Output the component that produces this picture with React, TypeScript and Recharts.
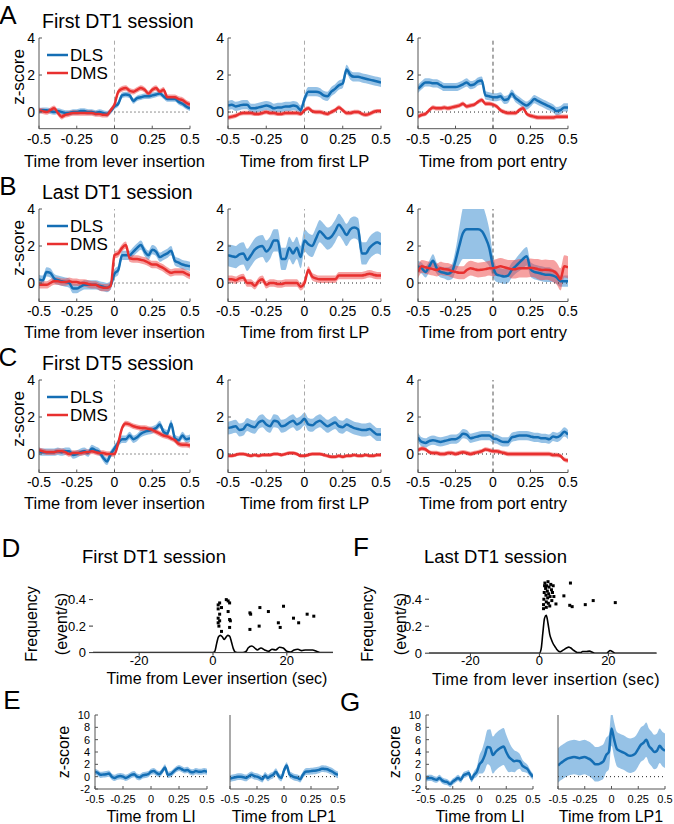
import { ComposedChart, Line, Area, XAxis, YAxis, ReferenceLine, Scatter } from 'recharts'

const FONT = '"Liberation Sans", Arial, sans-serif'
const NARROW = '"Liberation Sans Narrow", "Liberation Sans", Arial, sans-serif'
const BLUE = '#146eb4'
const BLUE_BAND = '#3f8fd2'
const RED = '#e8302f'
const RED_BAND = '#ee4444'

// time grid for the photometry traces (s)
const T = [
  -0.5, -0.475, -0.45, -0.425, -0.4, -0.375, -0.35, -0.325, -0.3, -0.275, -0.25, -0.225, -0.2, -0.175,
  -0.15, -0.125, -0.1, -0.075, -0.05, -0.025, 0, 0.025, 0.05, 0.075, 0.1, 0.125, 0.15, 0.175, 0.2, 0.225,
  0.25, 0.275, 0.3, 0.325, 0.35, 0.375, 0.4, 0.425, 0.45, 0.475, 0.5,
]
const X_TICKS = [-0.5, -0.25, 0, 0.25, 0.5]

// A: first DT1 session
const a1Dls = [0.05,0.1,0.1,0.05,0.0,0.05,0.0,-0.05,-0.05,0.0,0.0,0.05,0.05,0.0,0.0,-0.05,0.0,-0.05,-0.1,0.05,0.3,0.45,0.9,0.95,0.9,0.6,0.75,0.8,0.85,0.85,0.9,0.95,1.0,0.85,0.7,0.7,0.7,0.55,0.45,0.3,0.2]
const a1Dms = [0.1,0.05,0.0,0.1,0.2,-0.05,-0.25,-0.15,-0.1,-0.05,-0.05,-0.05,-0.05,-0.05,-0.05,-0.1,-0.1,-0.15,-0.15,0.1,0.4,1.1,1.25,1.3,1.15,1.1,1.2,1.3,1.2,1.0,1.2,1.3,1.1,1.2,0.8,0.8,0.8,0.7,0.65,0.5,0.4]
const a2Dls = [0.35,0.4,0.3,0.35,0.4,0.4,0.2,0.2,0.25,0.3,0.35,0.3,0.2,0.25,0.25,0.3,0.3,0.35,0.3,0.1,0.7,1.1,1.1,1.1,1.05,0.9,0.85,1.1,1.25,1.45,1.55,2.3,2.0,1.9,1.9,1.85,1.8,1.75,1.7,1.65,1.6]
const a2Dms = [-0.3,-0.25,-0.2,-0.1,-0.05,-0.05,-0.05,-0.1,-0.1,-0.05,0.0,-0.05,-0.05,-0.1,-0.1,-0.05,-0.05,-0.05,-0.05,-0.1,0.1,0.2,0.05,0.0,0.0,-0.05,-0.1,0.0,0.1,0.25,0.1,-0.05,-0.05,0.0,0.0,-0.1,-0.15,-0.1,0.0,0.05,0.05]
const a3Dls = [1.25,1.45,1.6,1.6,1.55,1.55,1.45,1.35,1.35,1.35,1.35,1.4,1.5,1.6,1.45,1.5,1.65,1.7,0.9,0.85,0.8,0.8,0.85,0.65,0.7,1.0,0.75,0.6,0.45,0.35,0.5,0.7,0.6,0.5,0.4,0.3,0.2,0.05,0.1,0.25,0.25]
const a3Dms = [-0.25,-0.15,-0.1,0.1,0.25,0.2,0.2,0.25,0.2,0.25,0.3,0.35,0.45,0.3,0.35,0.4,0.55,0.65,0.45,0.45,0.4,0.3,0.1,0.0,-0.05,-0.05,-0.05,0.1,0.2,-0.1,-0.2,-0.25,-0.3,-0.3,-0.3,-0.3,-0.3,-0.25,-0.25,-0.25,-0.25]

// B: last DT1 session
const b1Dls = [0.2,0.15,0.6,0.55,0.25,0.15,0.1,0.05,0.0,-0.3,-0.3,-0.2,-0.1,-0.1,-0.1,-0.1,-0.15,-0.2,-0.25,-0.1,0.5,0.7,1.5,1.5,1.5,1.7,1.9,2.05,1.7,1.5,1.8,1.7,1.4,1.5,1.6,1.75,1.2,1.1,1.0,0.95,0.9]
const b1Dms = [-0.1,-0.1,-0.1,0.0,0.1,0.1,0.05,0.05,0.1,0.05,0.05,0.0,0.0,-0.05,-0.1,-0.1,-0.2,-0.25,-0.25,-0.15,1.5,1.6,1.9,2.05,1.35,1.3,1.3,1.25,1.2,1.1,1.0,1.0,0.9,0.8,0.65,0.55,0.6,0.6,0.6,0.5,0.4]
const b2Dls = [1.5,1.45,1.4,1.55,1.6,1.25,1.5,1.8,1.95,2.0,1.7,1.9,2.3,2.3,1.3,1.3,1.9,1.6,1.9,1.4,2.3,2.1,2.0,2.4,2.8,2.6,2.4,2.5,2.8,3.15,2.9,2.6,2.9,3.0,2.9,1.6,1.6,1.9,2.1,2.2,2.1]
const b2Dms = [0.2,0.2,0.15,0.25,0.3,0.0,0.0,-0.15,0.1,0.2,-0.1,0.0,0.0,-0.05,-0.05,0.0,0.0,0.0,0.0,-0.2,0.0,0.7,0.35,0.25,0.2,0.2,0.2,0.2,0.2,0.4,0.4,0.4,0.4,0.4,0.4,0.4,0.45,0.5,0.45,0.4,0.4]
const b3Dls = [0.9,0.8,0.6,0.9,1.2,0.8,0.6,0.55,0.5,0.6,1.2,2.0,2.7,2.9,2.9,2.9,2.9,2.8,2.45,1.9,0.9,0.45,0.4,0.35,0.4,0.7,0.9,1.1,1.3,1.45,0.75,0.6,0.55,0.5,0.45,0.45,0.4,0.3,0.1,0.1,0.1]
const b3DlsSem = [0.3,0.3,0.3,0.3,0.35,0.3,0.3,0.3,0.35,0.4,0.6,1.0,1.4,1.6,1.6,1.6,1.6,1.5,1.3,1.0,0.6,0.4,0.4,0.4,0.4,0.4,0.4,0.45,0.5,0.5,0.4,0.4,0.4,0.4,0.4,0.4,0.35,0.35,0.3,0.3,0.3]
const b3Dms = [0.6,0.9,0.85,0.8,0.75,0.7,0.8,0.75,0.73,0.65,0.6,0.55,0.55,0.7,0.8,0.75,0.7,0.72,0.75,0.8,0.8,0.85,0.9,0.85,0.8,0.75,0.75,0.8,0.8,0.8,0.82,0.8,0.75,0.7,0.72,0.7,0.65,0.5,0.2,0.9,0.85]
const b3DmsSem = [0.35,0.35,0.35,0.35,0.35,0.35,0.35,0.35,0.35,0.35,0.35,0.35,0.35,0.4,0.4,0.4,0.4,0.4,0.4,0.4,0.45,0.45,0.45,0.45,0.45,0.5,0.5,0.5,0.5,0.5,0.5,0.5,0.55,0.55,0.55,0.55,0.6,0.6,0.6,0.6,0.6]

// C: first DT5 session
const c1Dls = [0.15,0.1,0.1,0.1,0.1,0.15,0.1,0.15,0.15,-0.05,0.0,0.1,0.15,0.05,0.3,0.2,0.1,-0.2,-0.4,0.0,0.3,0.6,0.8,0.8,1.0,0.8,0.9,1.1,1.2,1.25,1.3,1.4,1.6,1.2,1.1,1.65,0.85,0.75,1.0,0.8,0.85]
const c1Dms = [0.2,0.15,0.1,0.1,0.1,0.15,0.15,0.1,0.0,0.05,0.05,0.05,0.1,0.1,0.15,0.1,0.05,0.05,0.0,0.0,0.0,0.6,1.4,1.65,1.6,1.5,1.45,1.4,1.4,1.35,1.3,1.2,1.1,1.0,0.95,0.85,0.75,0.55,0.5,0.5,0.45]
const c2Dls = [1.4,1.45,1.5,1.3,1.35,1.6,1.5,1.45,1.7,1.8,1.6,1.5,1.8,1.75,1.5,1.55,1.7,1.8,1.6,1.7,1.9,1.6,1.55,1.7,1.8,1.65,1.5,1.6,1.7,1.5,1.45,1.6,1.5,1.4,1.35,1.3,1.3,1.35,1.2,1.05,1.05]
const c2Dms = [-0.1,-0.1,-0.05,0.0,0.0,-0.05,-0.1,-0.05,-0.1,-0.05,-0.05,-0.05,0.0,0.0,-0.05,0.0,0.05,0.05,0.0,-0.1,-0.1,-0.05,0.0,0.0,0.0,-0.05,-0.1,-0.15,-0.15,-0.1,-0.15,-0.1,-0.1,-0.05,-0.1,-0.1,-0.05,-0.1,-0.1,-0.05,-0.05]
const c3Dls = [0.9,0.65,0.6,0.7,0.75,0.7,0.65,0.7,0.75,0.8,0.8,0.9,1.1,1.05,0.85,0.9,0.95,1.0,1.0,1.0,0.85,0.8,0.7,0.65,0.65,0.9,0.95,1.0,1.0,1.0,0.95,0.9,0.9,0.85,0.85,0.8,0.95,0.9,1.0,1.2,1.05]
const c3Dms = [0.2,0.3,0.25,0.1,0.05,0.05,0.0,0.0,0.05,0.05,0.0,0.05,0.1,0.05,0.0,0.05,0.1,0.15,0.25,0.2,0.15,0.15,0.1,0.05,0.0,0.0,0.0,0.0,0.0,0.0,0.0,0.0,0.0,0.0,0.0,0.0,-0.05,-0.05,-0.1,-0.3,-0.35]

// D / F: lever-press frequency (t in s, f in events/s)
const histD = [[-32.5,0],[0,0],[0.5,0.01],[1,0.07],[1.5,0.12],[2,0.13],[2.5,0.12],[3,0.1],[3.5,0.115],[4,0.13],[4.5,0.125],[5,0.08],[5.5,0.03],[6,0.005],[7,0],[8,0],[9,0.01],[9.5,0.035],[10.5,0.05],[11.5,0.03],[12,0.02],[13,0.035],[14,0.02],[15,0.01],[16,0.025],[17,0.02],[18,0.04],[19,0.035],[20,0.01],[21,0.005],[22,0.02],[23,0.025],[24,0.015],[25,0.02],[26,0.02],[27,0.02],[28,0.01],[29,0],[32.5,0]]
const dotsD = [[1.4,0.36],[1.4,0.33],[1.4,0.26],[1.4,0.225],[1.6,0.2],[1.8,0.375],[1.8,0.29],[1.8,0.24],[2.3,0.34],[2.3,0.16],[3.6,0.4],[4.1,0.39],[4.5,0.375],[4.1,0.31],[4.5,0.25],[4.7,0.24],[4.5,0.19],[10,0.3],[10.2,0.29],[10,0.175],[12.7,0.34],[12.5,0.2],[15,0.31],[17.7,0.225],[18.2,0.19],[19.1,0.35],[21.8,0.26],[23.2,0.225],[25.5,0.29],[27.3,0.275]]
const histF = [[-32,0],[0,0],[0.5,0.03],[1,0.15],[1.5,0.26],[2,0.28],[2.5,0.22],[3,0.14],[3.5,0.1],[4,0.07],[4.5,0.05],[5,0.03],[6,0.01],[7,0.025],[8,0.04],[8.5,0.045],[9,0.04],[10,0.02],[11,0.005],[12,0.005],[12.5,0.012],[13.5,0.012],[14.5,0.015],[15.5,0.005],[16,0],[19.5,0],[20,0.01],[20.5,0.02],[21,0.015],[22,0],[34,0]]
const dotsF = [[1.2,0.33],[1.2,0.36],[1.3,0.4],[1.4,0.45],[1.5,0.5],[1.6,0.52],[1.8,0.48],[1.9,0.43],[2.0,0.38],[2.0,0.34],[2.1,0.5],[2.3,0.46],[2.4,0.41],[2.5,0.53],[2.6,0.37],[2.7,0.44],[2.8,0.49],[3.0,0.35],[3.1,0.42],[3.3,0.51],[3.5,0.47],[3.6,0.39],[3.8,0.45],[4.0,0.5],[4.2,0.42],[4.8,0.365],[7.1,0.425],[8.8,0.355],[9.0,0.52],[9.5,0.345],[13.3,0.36],[15.6,0.39],[22,0.375]]

// E / G: single-trace z-scores
const e1 = [0.8,0.6,0.3,0.35,0.4,0.5,0.0,-0.2,0.0,0.1,0.0,-0.2,0.0,0.3,0.4,0.0,-0.1,0.2,0.3,0.4,0.8,0.9,0.6,0.4,0.9,1.5,0.3,0.4,0.8,1.2,1.4,1.2,1.0,1.1,0.8,0.7,0.9,0.8,0.8,0.9,0.8]
const e2 = [-0.3,-0.2,-0.1,0.0,0.0,-0.1,-0.2,0.1,0.3,0.1,0.0,-0.2,-0.4,0.2,-0.2,0.1,0.3,0.8,0.1,-0.2,1.0,1.8,0.4,0.1,-0.1,-0.2,-0.4,0.3,0.8,0.85,0.9,0.95,1.0,1.1,1.3,1.25,1.2,1.0,0.8,0.5,0.3]
const g1 = [-0.3,-0.2,-0.2,-0.4,-0.5,-0.2,-0.6,-0.8,-0.9,-1.2,-0.8,-0.5,-0.2,-0.5,0.2,0.4,0.6,-0.4,0.3,0.8,2.0,2.5,3.5,4.8,4.7,3.5,4.0,4.4,4.7,4.9,4.0,3.2,2.8,2.5,2.6,2.5,1.8,1.5,1.2,0.5,0.0]
const g1Sem = [0.5,0.5,0.5,0.5,0.5,0.5,0.5,0.5,0.5,0.5,0.5,0.5,0.5,0.5,0.5,0.5,0.5,0.5,0.6,0.8,1.5,2.0,2.5,2.8,3.0,3.0,3.0,3.0,3.0,3.0,2.8,2.5,2.0,1.8,1.5,1.2,1.0,0.8,0.7,0.6,0.5]
const g2 = [1.8,2.2,2.5,2.8,3.0,3.1,3.2,3.1,3.0,3.1,3.2,3.0,2.8,2.4,2.0,2.0,2.2,2.5,3.5,4.0,7.8,6.0,4.5,4.2,4.0,3.8,3.5,3.4,3.5,3.8,4.5,5.2,5.5,6.0,5.0,4.5,4.0,4.2,5.0,4.5,4.2]

type Sem = number | number[]
const semAt = (s: Sem, i: number) => (typeof s === 'number' ? s : s[i])

function buildRows(dls: number[], dlsSem: Sem, dms?: number[], dmsSem?: Sem) {
  return T.map((t, i) => {
    const row: any = { t, dls: dls[i], dlsBand: [dls[i] - semAt(dlsSem, i), dls[i] + semAt(dlsSem, i)] }
    if (dms && dmsSem !== undefined) {
      row.dms = dms[i]
      row.dmsBand = [dms[i] - semAt(dmsSem, i), dms[i] + semAt(dmsSem, i)]
    }
    return row
  })
}

const pairs = (arr: number[][]) => arr.map(([t, f]) => ({ t, f }))

interface TraceProps {
  left: number
  top: number
  width: number
  height: number
  rows: any[]
  yDomain: [number, number]
  yTicks: number[]
  yLabels?: boolean
  vline?: string
  zeroFrom: number
  small?: boolean
}

function TracePanel({ left, top, width, height, rows, yDomain, yTicks, yLabels = true, vline, zeroFrom, small }: TraceProps) {
  const ml = 40
  const mt = 8
  const mr = 10
  const xh = 26
  const tick = small
    ? { fontSize: 11, fill: '#000', fontFamily: NARROW }
    : { fontSize: 14, fill: '#000', fontFamily: FONT }
  const hasRed = rows[0].dms !== undefined
  return (
    <div style={{ position: 'absolute', left: left - ml, top: top - mt }}>
      <ComposedChart width={width + ml + mr} height={height + mt + xh} data={rows} margin={{ top: mt, right: mr, left: 0, bottom: 0 }}>
        <XAxis dataKey="t" type="number" domain={[-0.5, 0.5]} ticks={X_TICKS} height={xh} interval={0}
          tickSize={-3} tickMargin={small ? 9 : 8} tick={tick} tickFormatter={(v: number) => String(v)}
          axisLine={{ stroke: '#555' }} tickLine={{ stroke: '#555' }} allowDataOverflow />
        <YAxis type="number" domain={yDomain} ticks={yTicks} width={ml} interval={0}
          tickSize={-3} tickMargin={small ? 8 : 7} tick={yLabels ? tick : false}
          axisLine={{ stroke: '#555' }} tickLine={{ stroke: '#555' }} allowDataOverflow />
        {vline && <ReferenceLine x={0} stroke={vline} strokeDasharray="4 3" />}
        <ReferenceLine segment={[{ x: zeroFrom, y: 0 }, { x: 0.5, y: 0 }]} stroke="#222" strokeDasharray="1 3" />
        <Area dataKey="dlsBand" type="monotone" stroke="none" fill={BLUE_BAND} fillOpacity={0.55} isAnimationActive={false} />
        <Line dataKey="dls" type="monotone" stroke={BLUE} strokeWidth={2.5} dot={false} isAnimationActive={false} />
        {hasRed && <Area dataKey="dmsBand" type="monotone" stroke="none" fill={RED_BAND} fillOpacity={0.5} isAnimationActive={false} />}
        {hasRed && <Line dataKey="dms" type="monotone" stroke={RED} strokeWidth={2.5} dot={false} isAnimationActive={false} />}
      </ComposedChart>
    </div>
  )
}

interface FreqProps {
  left: number
  top: number
  width: number
  height: number
  xDomain: [number, number]
  yMax: number
  hist: number[][]
  dots: number[][]
}

const square = (p: any) => <rect x={p.cx - 1.5} y={p.cy - 1.5} width={3} height={3} fill="#000" />

function FreqPanel({ left, top, width, height, xDomain, yMax, hist, dots }: FreqProps) {
  const ml = 40
  const mt = 4
  const mr = 6
  const xh = 24
  const tick = { fontSize: 13, fill: '#000', fontFamily: FONT }
  return (
    <div style={{ position: 'absolute', left: left - ml, top: top - mt }}>
      <ComposedChart width={width + ml + mr} height={height + mt + xh} margin={{ top: mt, right: mr, left: 0, bottom: 0 }}>
        <XAxis dataKey="t" type="number" domain={xDomain} ticks={[-20, 0, 20]} height={xh} interval={0}
          tickSize={3} tickMargin={0} tick={tick} axisLine={{ stroke: '#333' }} tickLine={{ stroke: '#333' }} allowDataOverflow />
        <YAxis type="number" domain={[0, yMax]} ticks={[0, 0.2, 0.4]} width={ml} interval={0}
          tickSize={4} tickMargin={3} tick={tick} axisLine={false} tickLine={{ stroke: '#333' }} allowDataOverflow />
        <Line data={pairs(hist)} dataKey="f" type="monotone" stroke="#000" strokeWidth={1.6} dot={false} isAnimationActive={false} />
        <Scatter data={pairs(dots)} dataKey="f" shape={square} isAnimationActive={false} />
      </ComposedChart>
    </div>
  )
}

const ROW_TOP = [38, 209, 380]
const COL_LEFT = [39, 228, 418]
const COL_W = [151, 153, 150]

const rowsA = [buildRows(a1Dls, 0.15, a1Dms, 0.15), buildRows(a2Dls, 0.25, a2Dms, 0.12), buildRows(a3Dls, 0.22, a3Dms, 0.12)]
const rowsB = [buildRows(b1Dls, 0.25, b1Dms, 0.2), buildRows(b2Dls, 0.6, b2Dms, 0.2), buildRows(b3Dls, b3DlsSem, b3Dms, b3DmsSem)]
const rowsC = [buildRows(c1Dls, 0.2, c1Dms, 0.15), buildRows(c2Dls, 0.35, c2Dms, 0.1), buildRows(c3Dls, 0.25, c3Dms, 0.12)]

const titles = ['First DT1 session', 'Last DT1 session', 'First DT5 session']
const letters = ['A', 'B', 'C']
const xLabels = ['Time from lever insertion', 'Time from first LP', 'Time from port entry']
const Z_TICKS = [-2, 0, 2, 4, 6, 8, 10]

export default function App() {
  const grid = [rowsA, rowsB, rowsC]
  return (
    <div style={{ position: 'absolute', left: 0, top: 0, width: 674, height: 824, background: '#fff', fontFamily: FONT }}>
      {grid.map((rows, r) =>
        rows.map((data, c) => (
          <TracePanel key={`${r}-${c}`} left={COL_LEFT[c]} top={ROW_TOP[r]} width={COL_W[c]}
            height={r === 0 ? 90.7 : 92.5} rows={data} yDomain={r === 0 ? [-0.9, 4] : [-1, 4]} yTicks={[0, 2, 4]}
            vline={c === 2 ? '#555' : '#aaa'} zeroFrom={c === 0 ? 0 : -0.5} />
        ))
      )}

      <FreqPanel left={93} top={593.4} width={240} height={59.6} xDomain={[-32.5, 32.5]} yMax={0.45} hist={histD} dots={dotsD} />
      <FreqPanel left={428.6} top={578.8} width={227.7} height={74.2} xDomain={[-32, 34]} yMax={0.55} hist={histF} dots={dotsF} />

      <TracePanel left={95} top={715} width={112} height={74} rows={buildRows(e1, 0.5)} yDomain={[-2, 10]} yTicks={Z_TICKS} zeroFrom={0} small />
      <TracePanel left={230} top={715} width={108} height={74} rows={buildRows(e2, 0.55)} yDomain={[-2, 10]} yTicks={Z_TICKS} yLabels={false} zeroFrom={-0.5} small />
      <TracePanel left={426} top={715} width={107} height={74} rows={buildRows(g1, g1Sem)} yDomain={[-2, 10]} yTicks={Z_TICKS} zeroFrom={0} small />
      <TracePanel left={558} top={715} width={107} height={74} rows={buildRows(g2, 2.8)} yDomain={[-2, 10]} yTicks={Z_TICKS} yLabels={false} zeroFrom={-0.5} small />

      <svg width={674} height={824} style={{ position: 'absolute', left: 0, top: 0, pointerEvents: 'none' }} fontFamily={FONT} fill="#000">
        {ROW_TOP.map((top, r) => (
          <g key={r}>
            <text x={8} y={top - 14} fontSize={26} textAnchor="middle">{letters[r]}</text>
            <text x={42} y={top - 10} fontSize={19.5}>{titles[r]}</text>
            <text x={0} y={0} fontSize={17} textAnchor="middle" transform={`translate(24 ${top + 39}) rotate(-90)`}>z-score</text>
            <line x1={47} x2={68} y1={top + 17} y2={top + 17} stroke={BLUE} strokeWidth={2.5} />
            <line x1={47} x2={68} y1={top + 35} y2={top + 35} stroke={RED} strokeWidth={2.5} />
            <text x={70} y={top + 23} fontSize={17}>DLS</text>
            <text x={70} y={top + 41} fontSize={17}>DMS</text>
            {xLabels.map((lab, c) => (
              <text key={c} x={COL_LEFT[c] + COL_W[c] / 2} y={top + 129} fontSize={16.5} textAnchor="middle">{lab}</text>
            ))}
          </g>
        ))}

        <text x={11} y={557} fontSize={26} textAnchor="middle">D</text>
        <text x={82} y={563} fontSize={18.5}>First DT1 session</text>
        <text x={361} y={556} fontSize={26} textAnchor="middle">F</text>
        <text x={424} y={563} fontSize={18.5}>Last DT1 session</text>
        <text fontSize={16} textAnchor="middle" transform="translate(37 624) rotate(-90)">Frequency</text>
        <text fontSize={16} textAnchor="middle" transform="translate(67 624) rotate(-90)">(event/s)</text>
        <text fontSize={16} textAnchor="middle" transform="translate(373 624) rotate(-90)">Frequency</text>
        <text fontSize={16} textAnchor="middle" transform="translate(406 624) rotate(-90)">(event/s)</text>
        <text x={217} y={684} fontSize={16} textAnchor="middle">Time from Lever insertion (sec)</text>
        <text x={546} y={685} fontSize={16} textAnchor="middle" letterSpacing={0.4}>Time from lever insertion (sec)</text>

        <text x={12} y={709} fontSize={26} textAnchor="middle">E</text>
        <text x={350} y={711} fontSize={26} textAnchor="middle">G</text>
        <text fontSize={16} textAnchor="middle" transform="translate(69 752) rotate(-90)">z-score</text>
        <text fontSize={16} textAnchor="middle" transform="translate(400 752) rotate(-90)">z-score</text>
        <text x={151} y={822} fontSize={16} textAnchor="middle">Time from LI</text>
        <text x={284} y={822} fontSize={16} textAnchor="middle">Time from LP1</text>
        <text x={480} y={822} fontSize={16} textAnchor="middle">Time from LI</text>
        <text x={611} y={822} fontSize={16} textAnchor="middle">Time from LP1</text>
      </svg>
    </div>
  )
}
